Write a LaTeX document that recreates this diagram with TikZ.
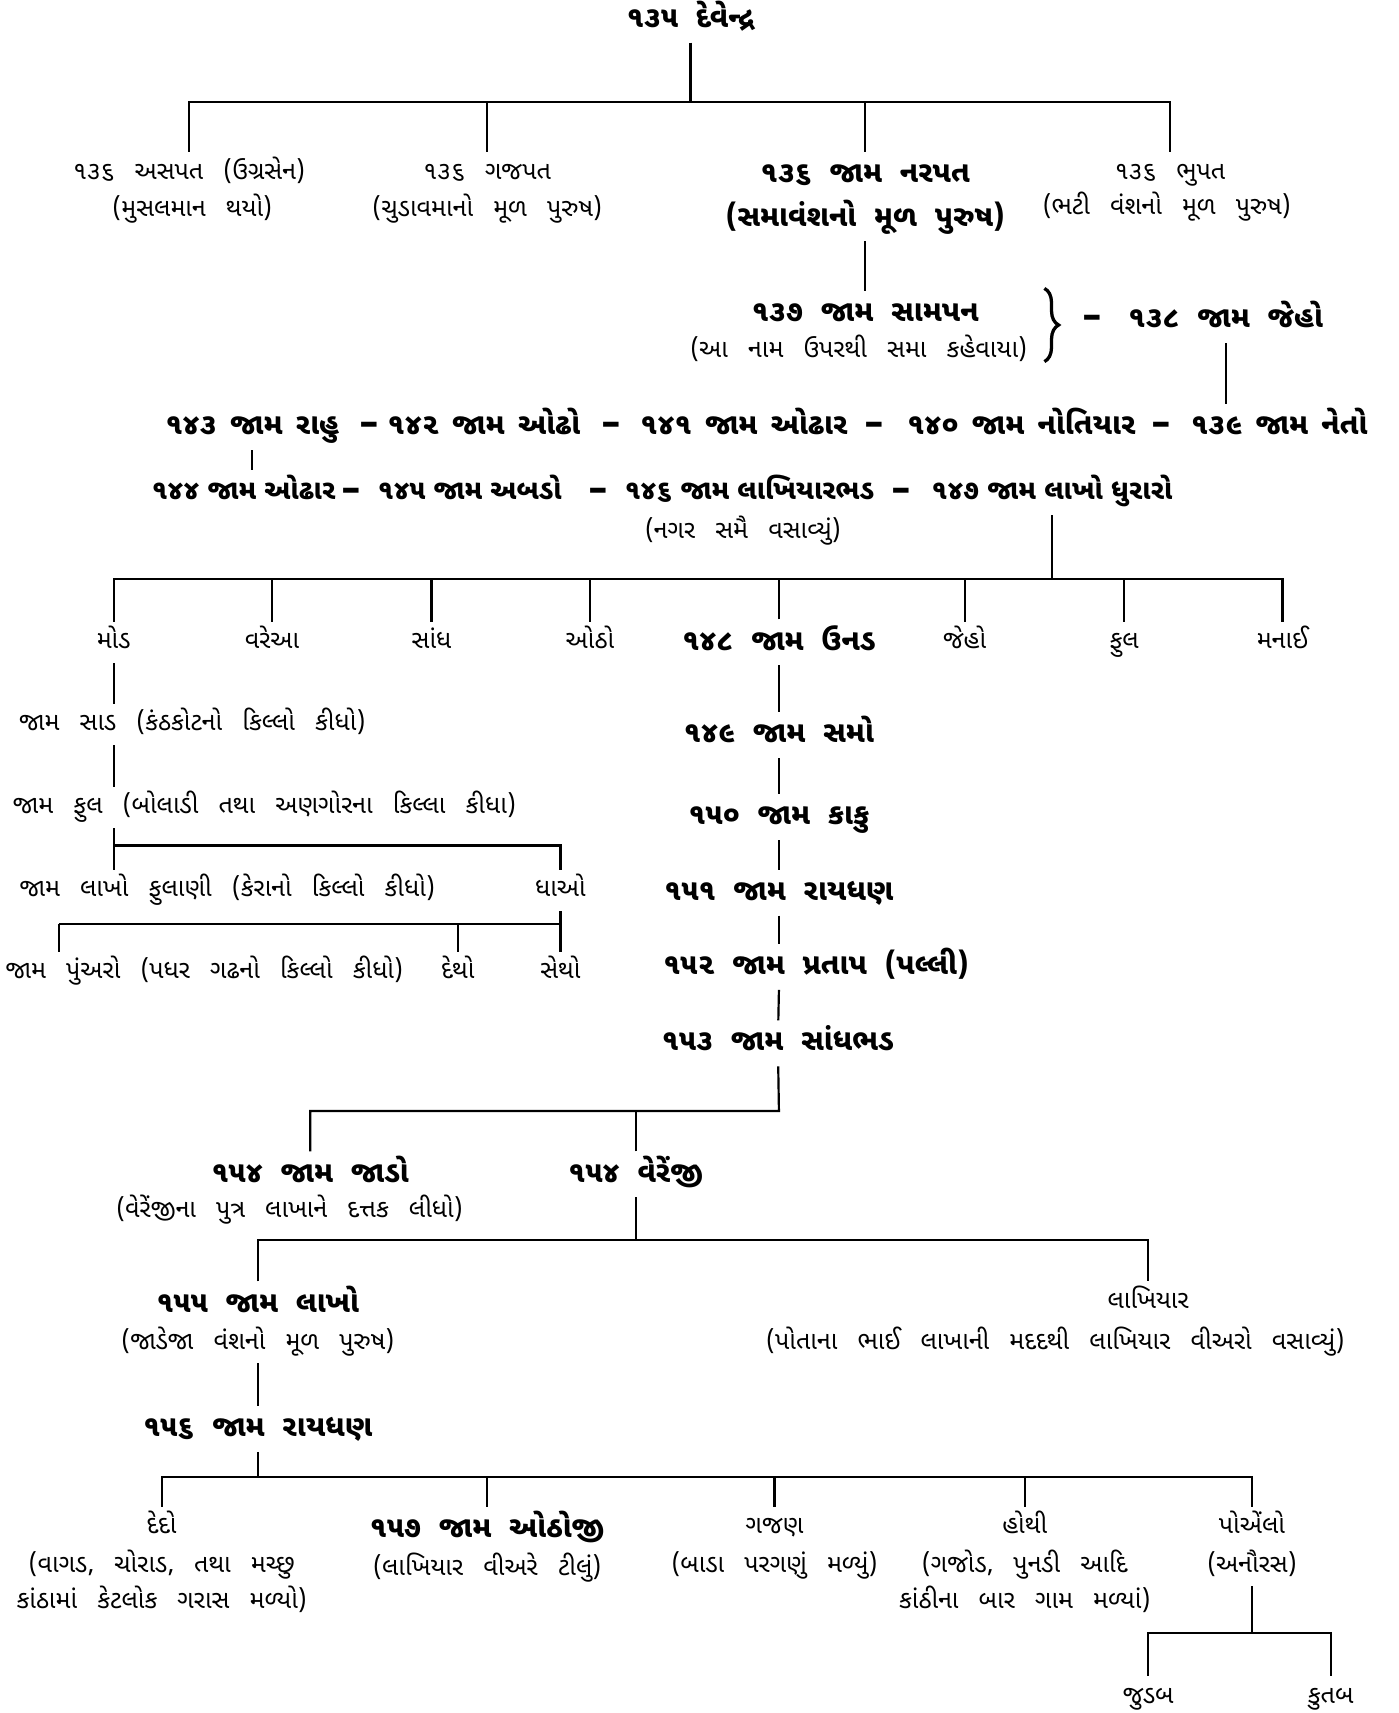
\documentclass[tikz,border=0pt]{standalone}
\usepackage{fontspec}
\newfontfamily\guj[Script=Gujarati]{Noto Sans Gujarati UI}
\newfontfamily\dashfont{DejaVu Sans}
\usetikzlibrary{positioning,decorations.pathreplacing}

\newcommand{\nmb}{\guj\bfseries\fontsize{27}{32}\selectfont\spaceskip=0.6em\relax}
\newcommand{\nmw}{\guj\bfseries\fontsize{27}{32}\selectfont\spaceskip=0.45em\relax}
\newcommand{\nmt}{\guj\bfseries\fontsize{25}{30}\selectfont\spaceskip=0.3em\relax}
\newcommand{\nmr}{\guj\fontsize{23}{27}\selectfont\spaceskip=0.8em\relax}

\begin{document}
\begin{tikzpicture}[%
x=1pt,y=-1pt,
line width=2pt,
bold/.style={font=\nmb, inner sep=0pt, text height=20pt, text depth=6pt, outer sep=8pt},
rowname/.style={font=\nmw, inner sep=0pt, text height=20pt, text depth=6pt, outer sep=8pt},
tight/.style={font=\nmt, inner sep=0pt, text height=19pt, text depth=6pt, outer sep=8pt},
plain/.style={font=\nmr, inner sep=0pt, text height=17pt, text depth=5pt, outer sep=8pt},
sepmark/.style={font=\dashfont\bfseries\fontsize{36}{38}\selectfont, inner sep=0pt}
]
\useasboundingbox (0,0) rectangle (1280,1568);

% 135 and his sons
\node[bold] (n135) at (632,18) {૧૩૫ દેવેન્દ્ર};
\coordinate (b1) at (632,93);
\node[plain] (asapat) at (173,158) {૧૩૬ અસપત (ઉગ્રસેન)};
\node[plain] (asapatn) at (176,192) {(મુસલમાન થયો)};
\node[plain] (gajpat) at (446,158) {૧૩૬ ગજપત};
\node[plain] (gajpatn) at (446,192) {(ચુડાવમાનો મૂળ પુરુષ)};
\node[bold] (narpat) at (792,160) {૧૩૬ જામ નરપત};
\node[bold] (narpatn) at (792,200) {(સમાવંશનો મૂળ પુરુષ)};
\node[plain] (bhupat) at (1071,158) {૧૩૬ ભુપત};
\node[plain] (bhupatn) at (1068,190) {(ભટી વંશનો મૂળ પુરુષ)};

\draw (n135) -- (b1);
\draw (asapat) |- (b1) -| (bhupat);
\draw (gajpat) -- (gajpat |- b1);
\draw (narpat) -- (narpat |- b1);

% 137, 138
\node[bold] (n137) at (792,287) {૧૩૭ જામ સામપન};
\node[plain] (n137n) at (786,321) {(આ નામ ઉપરથી સમા કહેવાયા)};
\draw[decorate,decoration={brace,amplitude=13pt},line width=3pt] (956,264) -- (956,331);
\node[sepmark] (d0) at (1000,295) {–};
\node[bold] (n138) at (1122,293) {૧૩૮ જામ જેહો};
\draw (narpatn) -- (n137);

% 143 ... 139
\node[rowname] (n143) at (231,391) {૧૪૩ જામ રાહુ};
\node[sepmark] (d1) at (338,393) {–};
\node[rowname] (n142) at (443,391) {૧૪૨ જામ ઓઢો};
\node[sepmark] (d2) at (560,393) {–};
\node[rowname] (n141) at (681,391) {૧૪૧ જામ ઓઢાર};
\node[sepmark] (d3) at (800,393) {–};
\node[rowname] (n140) at (935,391) {૧૪૦ જામ નોતિયાર};
\node[sepmark] (d4) at (1063,393) {–};
\node[rowname] (n139) at (1171,391) {૧૩૯ જામ નેતો};
\draw (n138) -- (n138 |- n139.north);

% 144 ... 147
\node[tight] (n144) at (223,451) {૧૪૪ જામ ઓઢાર};
\node[sepmark] (d5) at (322,453) {–};
\node[tight] (n145) at (430,451) {૧૪૫ જામ અબડો};
\node[sepmark] (d6) at (548,453) {–};
\node[tight] (n146) at (686,451) {૧૪૬ જામ લાખિયારભડ};
\node[sepmark] (d7) at (825,453) {–};
\node[tight] (n147) at (963,451) {૧૪૭ જામ લાખો ધુરારો};
\node[plain] (n146n) at (680,487) {(નગર સમૈ વસાવ્યું)};
\draw (n143) -- (n143 |- n144.north);

% sons of 147
\coordinate (b3) at (963,530);
\node[plain] (mod) at (104,588) {મોડ};
\node[plain] (varea) at (249,588) {વરેઆ};
\node[plain] (sandh) at (395,588) {સાંધ};
\node[plain] (otho) at (540,588) {ઓઠો};
\node[bold] (n148) at (713,588) {૧૪૮ જામ ઉનડ};
\node[plain] (jeho) at (883,588) {જેહો};
\node[plain] (phul) at (1029,588) {ફુલ};
\node[plain] (manai) at (1174,588) {મનાઈ};
\draw (n147) -- (b3);
\draw (mod) |- (b3) -| (manai);
\foreach \s in {varea,sandh,otho,n148,jeho,phul}
  \draw (\s) -- (\s |- b3);

% line of mod
\node[plain] (sad) at (176,663) {જામ સાડ (કંઠકોટનો કિલ્લો કીધો)};
\node[plain] (phul2) at (242,739) {જામ ફુલ (બોલાડી તથા અણગોરના કિલ્લા કીધા)};
\node[plain] (lakho) at (208,815) {જામ લાખો ફુલાણી (કેરાનો કિલ્લો કીધો)};
\node[plain] (dhao) at (513,815) {ધાઓ};
\node[plain] (punaro) at (187,890) {જામ પુંઅરો (પધર ગઢનો કિલ્લો કીધો)};
\node[plain] (detho) at (419,890) {દેથો};
\node[plain] (setho) at (513,890) {સેથો};
\coordinate (b4) at (104,774);
\coordinate (b5) at (54,846);
\draw (mod) -- (mod |- sad.north);
\draw (mod |- sad.south) -- (mod |- phul2.north);
\draw (mod |- phul2.south) -- (mod |- lakho.north);
\draw (b4) -| (dhao);
\draw (dhao) -- (setho);
\draw (b5) -- (b5 |- punaro.north);
\draw (b5) -- (b5 -| dhao);
\draw (detho) -- (detho |- b5);

% 148 ... 153
\node[bold] (n149) at (713,673) {૧૪૯ જામ સમો};
\node[bold] (n150) at (713,748) {૧૫૦ જામ કાકુ};
\node[bold] (n151) at (713,817) {૧૫૧ જામ રાયધણ};
\node[bold] (n152) at (747,885) {૧૫૨ જામ પ્રતાપ (પલ્લી)};
\node[bold] (n153) at (712,955) {૧૫૩ જામ સાંધભડ};
\draw (n148) -- (n149);
\draw (n149) -- (n150);
\draw (n150) -- (n151);
\draw (n151) -- (n151 |- n152.north);
\draw (n151 |- n152.south) -- (n153);

% 154
\coordinate (b6) at (713,1017);
\node[bold] (jado) at (284,1075) {૧૫૪ જામ જાડો};
\node[plain] (jadon) at (265,1108) {(વેરેંજીના પુત્ર લાખાને દત્તક લીધો)};
\node[bold] (vere) at (582,1075) {૧૫૪ વેરેંજી};
\draw (n153) -- (b6) -| (jado);
\draw (vere) -- (vere |- b6);

% 155
\coordinate (b7) at (582,1135);
\node[bold] (n155) at (236,1194) {૧૫૫ જામ લાખો};
\node[plain] (n155n) at (236,1229) {(જાડેજા વંશનો મૂળ પુરુષ)};
\node[plain] (lakhiyar) at (1051,1192) {લાખિયાર};
\node[plain] (lakhiyarn) at (966,1229) {(પોતાના ભાઈ લાખાની મદદથી લાખિયાર વીઅરો વસાવ્યું)};
\draw (vere) -- (b7);
\draw (n155) |- (b7) -| (lakhiyar);

% 156 and sons
\node[bold] (n156) at (236,1308) {૧૫૬ જામ રાયધણ};
\draw (n155n) -- (n156);
\coordinate (b8) at (236,1352);
\node[plain] (dedo) at (148,1398) {દેદો};
\node[plain] (dedon) at (148,1433) {(વાગડ, ચોરાડ, તથા મચ્છુ};
\node[plain] (dedonn) at (148,1466) {કાંઠામાં કેટલોક ગરાસ મળ્યો)};
\node[bold] (n157) at (446,1400) {૧૫૭ જામ ઓઠોજી};
\node[plain] (n157n) at (446,1436) {(લાખિયાર વીઅરે ટીલું)};
\node[plain] (gajan) at (709,1398) {ગજણ};
\node[plain] (gajann) at (709,1433) {(બાડા પરગણું મળ્યું)};
\node[plain] (hothi) at (938,1398) {હોથી};
\node[plain] (hothin) at (938,1433) {(ગજોડ, પુનડી આદિ};
\node[plain] (hothinn) at (938,1466) {કાંઠીના બાર ગામ મળ્યાં)};
\node[plain] (poelo) at (1146,1398) {પોએંલો};
\node[plain] (poelon) at (1146,1433) {(અનૌરસ)};
\draw (n156) -- (b8);
\draw (dedo) |- (b8) -| (poelo);
\foreach \s in {n157,gajan,hothi}
  \draw (\s) -- (\s |- b8);

% sons of poelo
\coordinate (b9) at (1146,1495);
\node[plain] (judab) at (1051,1553) {જુડબ};
\node[plain] (kutab) at (1218,1553) {કુતબ};
\draw (poelon) -- (b9);
\draw (judab) |- (b9) -| (kutab);
\end{tikzpicture}
\end{document}
